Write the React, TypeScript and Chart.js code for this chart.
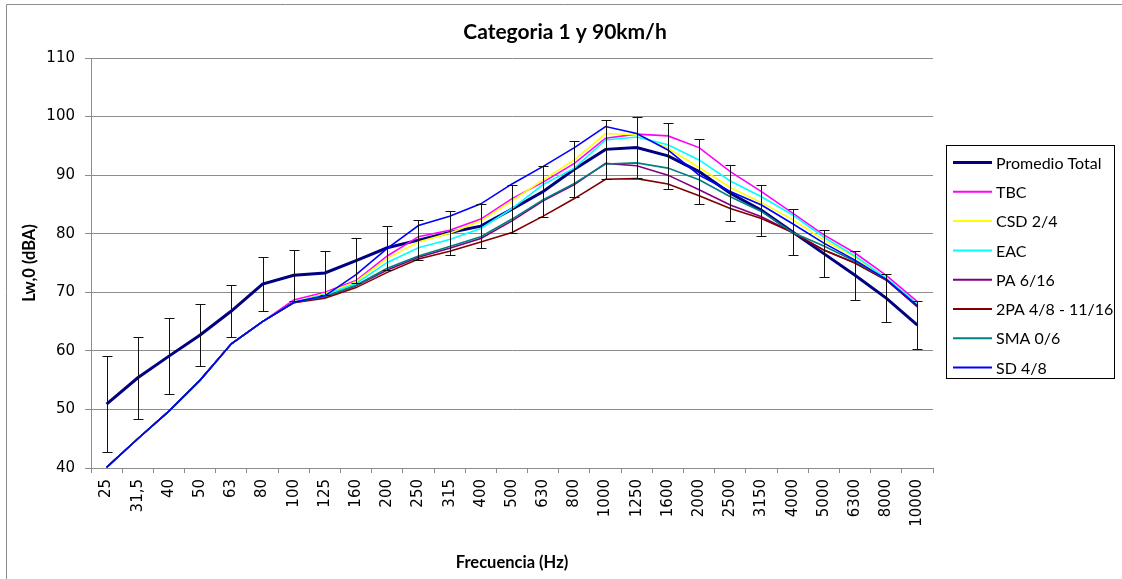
import React, { useEffect, useRef } from 'react';
import { Chart, registerables } from 'chart.js';

Chart.register(...registerables);

const frequencies = ['25', '31,5', '40', '50', '63', '80', '100', '125', '160', '200', '250', '315', '400', '500', '630', '800', '1000', '1250', '1600', '2000', '2500', '3150', '4000', '5000', '6300', '8000', '10000'];

const promedioTotal = [50.9, 55.4, 59.1, 62.7, 66.8, 71.4, 72.9, 73.3, 75.4, 77.6, 78.9, 80.2, 81.3, 84.2, 87.2, 91.0, 94.4, 94.7, 93.3, 90.6, 86.9, 84.0, 80.3, 76.6, 72.9, 69.0, 64.4];
const promedioError = [8.2, 7.05, 6.5, 5.3, 4.4, 4.65, 4.35, 3.75, 3.8, 3.8, 3.45, 3.75, 3.8, 4.15, 4.3, 4.75, 5.05, 5.25, 5.6, 5.55, 4.8, 4.35, 4.0, 4.0, 4.15, 4.05, 4.05];

const tbc = [40.1, 45.0, 49.7, 55.0, 61.2, 65.0, 68.7, 70.0, 72.0, 76.2, 79.5, 80.6, 82.5, 86.0, 88.8, 92.0, 96.3, 97.0, 96.7, 94.7, 90.6, 87.2, 83.5, 79.8, 76.7, 72.9, 68.4];
const csd24 = [40.1, 45.0, 49.7, 55.0, 61.2, 65.0, 68.3, 69.8, 71.8, 75.8, 78.6, 80.1, 82.2, 85.6, 89.2, 92.6, 97.1, 96.9, 94.6, 91.3, 87.9, 85.3, 82.4, 78.9, 76.0, 72.3, 68.0];
const eac = [40.1, 45.0, 49.7, 55.0, 61.2, 65.0, 68.3, 69.6, 71.5, 75.1, 77.6, 79.0, 80.9, 84.3, 88.4, 91.2, 96.0, 96.5, 95.2, 92.6, 89.0, 86.3, 83.2, 79.4, 76.2, 72.4, 68.0];
const pa616 = [40.1, 45.0, 49.7, 55.0, 61.2, 65.0, 68.2, 69.2, 71.1, 73.8, 76.0, 77.5, 79.2, 82.2, 85.6, 88.4, 92.0, 91.6, 90.0, 87.5, 84.9, 82.9, 80.2, 77.2, 75.0, 72.1, 67.6];
const pa2 = [40.1, 45.0, 49.7, 55.0, 61.2, 65.0, 68.2, 69.0, 70.8, 73.4, 75.7, 77.0, 78.6, 80.2, 83.0, 86.0, 89.3, 89.4, 88.5, 86.5, 84.3, 82.6, 80.2, 77.2, 75.0, 72.1, 67.5];
const sma06 = [40.1, 45.0, 49.7, 55.0, 61.2, 65.0, 68.3, 69.3, 71.2, 74.1, 76.2, 77.8, 79.5, 82.5, 85.8, 88.6, 91.9, 92.1, 91.2, 89.2, 86.3, 83.8, 80.2, 77.9, 75.3, 72.2, 67.7];
const sd48 = [40.1, 45.0, 49.7, 55.0, 61.2, 65.0, 68.3, 69.4, 73.0, 77.5, 81.4, 83.0, 85.1, 88.5, 91.5, 94.7, 98.3, 97.1, 94.3, 90.0, 87.2, 84.9, 81.7, 78.4, 75.5, 72.2, 67.7];

const seriesNames = ['Promedio Total', 'TBC', 'CSD 2/4', 'EAC', 'PA 6/16', '2PA 4/8 - 11/16', 'SMA 0/6', 'SD 4/8'];
const seriesColors = ['#000080', '#FF00FF', '#FFFF00', '#00FFFF', '#800080', '#800000', '#008080', '#0000FF'];
const seriesWidths = [3, 1.6, 1.6, 1.6, 1.6, 1.6, 1.6, 1.6];
const seriesValues = [promedioTotal, tbc, csd24, eac, pa616, pa2, sma06, sd48];

const yMin = 40;
const yMax = 110;
const yStep = 10;

const chartTitle = 'Categoria 1 y 90km/h';
const xTitle = 'Frecuencia (Hz)';
const yTitle = 'Lw,0 (dBA)';

const errorBarPlugin = {
  id: 'errorBars',
  afterDatasetsDraw(chart: any) {
    const meta = chart.getDatasetMeta(0);
    const yScale = chart.scales.y;
    const ctx = chart.ctx;
    ctx.save();
    ctx.strokeStyle = '#111111';
    ctx.lineWidth = 1;
    meta.data.forEach((pt: any, i: number) => {
      const v = promedioTotal[i];
      const e = promedioError[i];
      const x = Math.round(pt.x) + 0.5;
      const yt = Math.round(yScale.getPixelForValue(v + e)) + 0.5;
      const yb = Math.round(yScale.getPixelForValue(v - e)) + 0.5;
      ctx.beginPath();
      ctx.moveTo(x, yt);
      ctx.lineTo(x, yb);
      ctx.moveTo(x - 5, yt);
      ctx.lineTo(x + 5, yt);
      ctx.moveTo(x - 5, yb);
      ctx.lineTo(x + 5, yb);
      ctx.stroke();
    });
    ctx.restore();
  },
};

const decorPlugin = {
  id: 'decor',
  afterDraw(chart: any) {
    const ctx = chart.ctx;
    ctx.save();
    // outer frame
    ctx.strokeStyle = '#8c8c8c';
    ctx.lineWidth = 1;
    ctx.beginPath();
    ctx.moveTo(6.5, chart.height + 5);
    ctx.lineTo(6.5, 4.5);
    ctx.lineTo(chart.width + 5, 4.5);
    ctx.stroke();
    // title
    ctx.fillStyle = '#000';
    ctx.font = 'bold 21px Lato';
    ctx.textAlign = 'center';
    ctx.textBaseline = 'middle';
    ctx.fillText(chartTitle, 565, 32);
    // legend
    const lx = 946.5, ly = 145.5, lw = 168, lh = 233;
    ctx.strokeStyle = '#000';
    ctx.lineWidth = 1;
    ctx.strokeRect(lx, ly, lw, lh);
    ctx.font = '16px Lato';
    ctx.textAlign = 'left';
    chart.data.datasets.forEach((ds: any, i: number) => {
      const cy = 162.5 + i * 29.3;
      ctx.strokeStyle = ds.borderColor;
      ctx.lineWidth = i === 0 ? 3 : 2;
      ctx.beginPath();
      ctx.moveTo(953, cy);
      ctx.lineTo(992, cy);
      ctx.stroke();
      ctx.fillStyle = '#000';
      ctx.fillText(ds.label, 996, cy + 1);
    });
    ctx.restore();
  },
};

export default function App() {
  const canvasRef = useRef<HTMLCanvasElement | null>(null);

  useEffect(() => {
    document.body.style.margin = '0';
    const canvas = canvasRef.current;
    if (!canvas) return;
    const datasets = seriesValues.map((vals, i) => ({
      label: seriesNames[i],
      data: vals,
      borderColor: seriesColors[i],
      backgroundColor: seriesColors[i],
      borderWidth: seriesWidths[i],
      pointRadius: 0,
      tension: 0,
      fill: false,
      order: seriesValues.length - 1 - i,
    }));
    const chart = new Chart(canvas, {
      type: 'line',
      data: { labels: frequencies, datasets },
      plugins: [errorBarPlugin, decorPlugin],
      options: {
        animation: false,
        responsive: false,
        devicePixelRatio: 1,
        layout: { padding: { top: 58, right: 189, left: 0, bottom: 0 } },
        plugins: {
          legend: { display: false },
          title: { display: false },
          tooltip: { enabled: false },
        },
        scales: {
          x: {
            type: 'category',
            offset: true,
            afterFit: (scale: any) => { scale.height = 111; },
            grid: {
              display: true,
              drawOnChartArea: false,
              drawTicks: true,
              tickLength: 5,
              offset: true,
              color: '#8c8c8c',
            },
            border: { display: true, color: '#8c8c8c', width: 1 },
            ticks: {
              minRotation: 90,
              maxRotation: 90,
              autoSkip: false,
              padding: 6,
              color: '#000',
              font: { family: 'DejaVu Sans', size: 15 },
            },
            title: {
              display: true,
              text: xTitle,
              color: '#000',
              font: { family: 'Lato', size: 16.5, weight: 'bold' },
              padding: { top: 0, bottom: 6 },
            },
          },
          y: {
            min: yMin,
            max: yMax,
            afterFit: (scale: any) => { scale.width = 91; },
            ticks: {
              stepSize: yStep,
              padding: 10,
              color: '#000',
              font: { family: 'DejaVu Sans', size: 15 },
            },
            grid: {
              color: '#8c8c8c',
              tickLength: 6,
            },
            border: { display: true, color: '#8c8c8c', width: 1 },
            title: {
              display: true,
              text: yTitle,
              color: '#000',
              font: { family: 'Lato', size: 16.5, weight: 'bold' },
              padding: { top: 20, bottom: 0 },
            },
          },
        },
      },
    });
    return () => chart.destroy();
  }, []);

  return (
    <div style={{ width: 1122, height: 579 }}>
      <canvas ref={canvasRef} width={1122} height={579} />
    </div>
  );
}
